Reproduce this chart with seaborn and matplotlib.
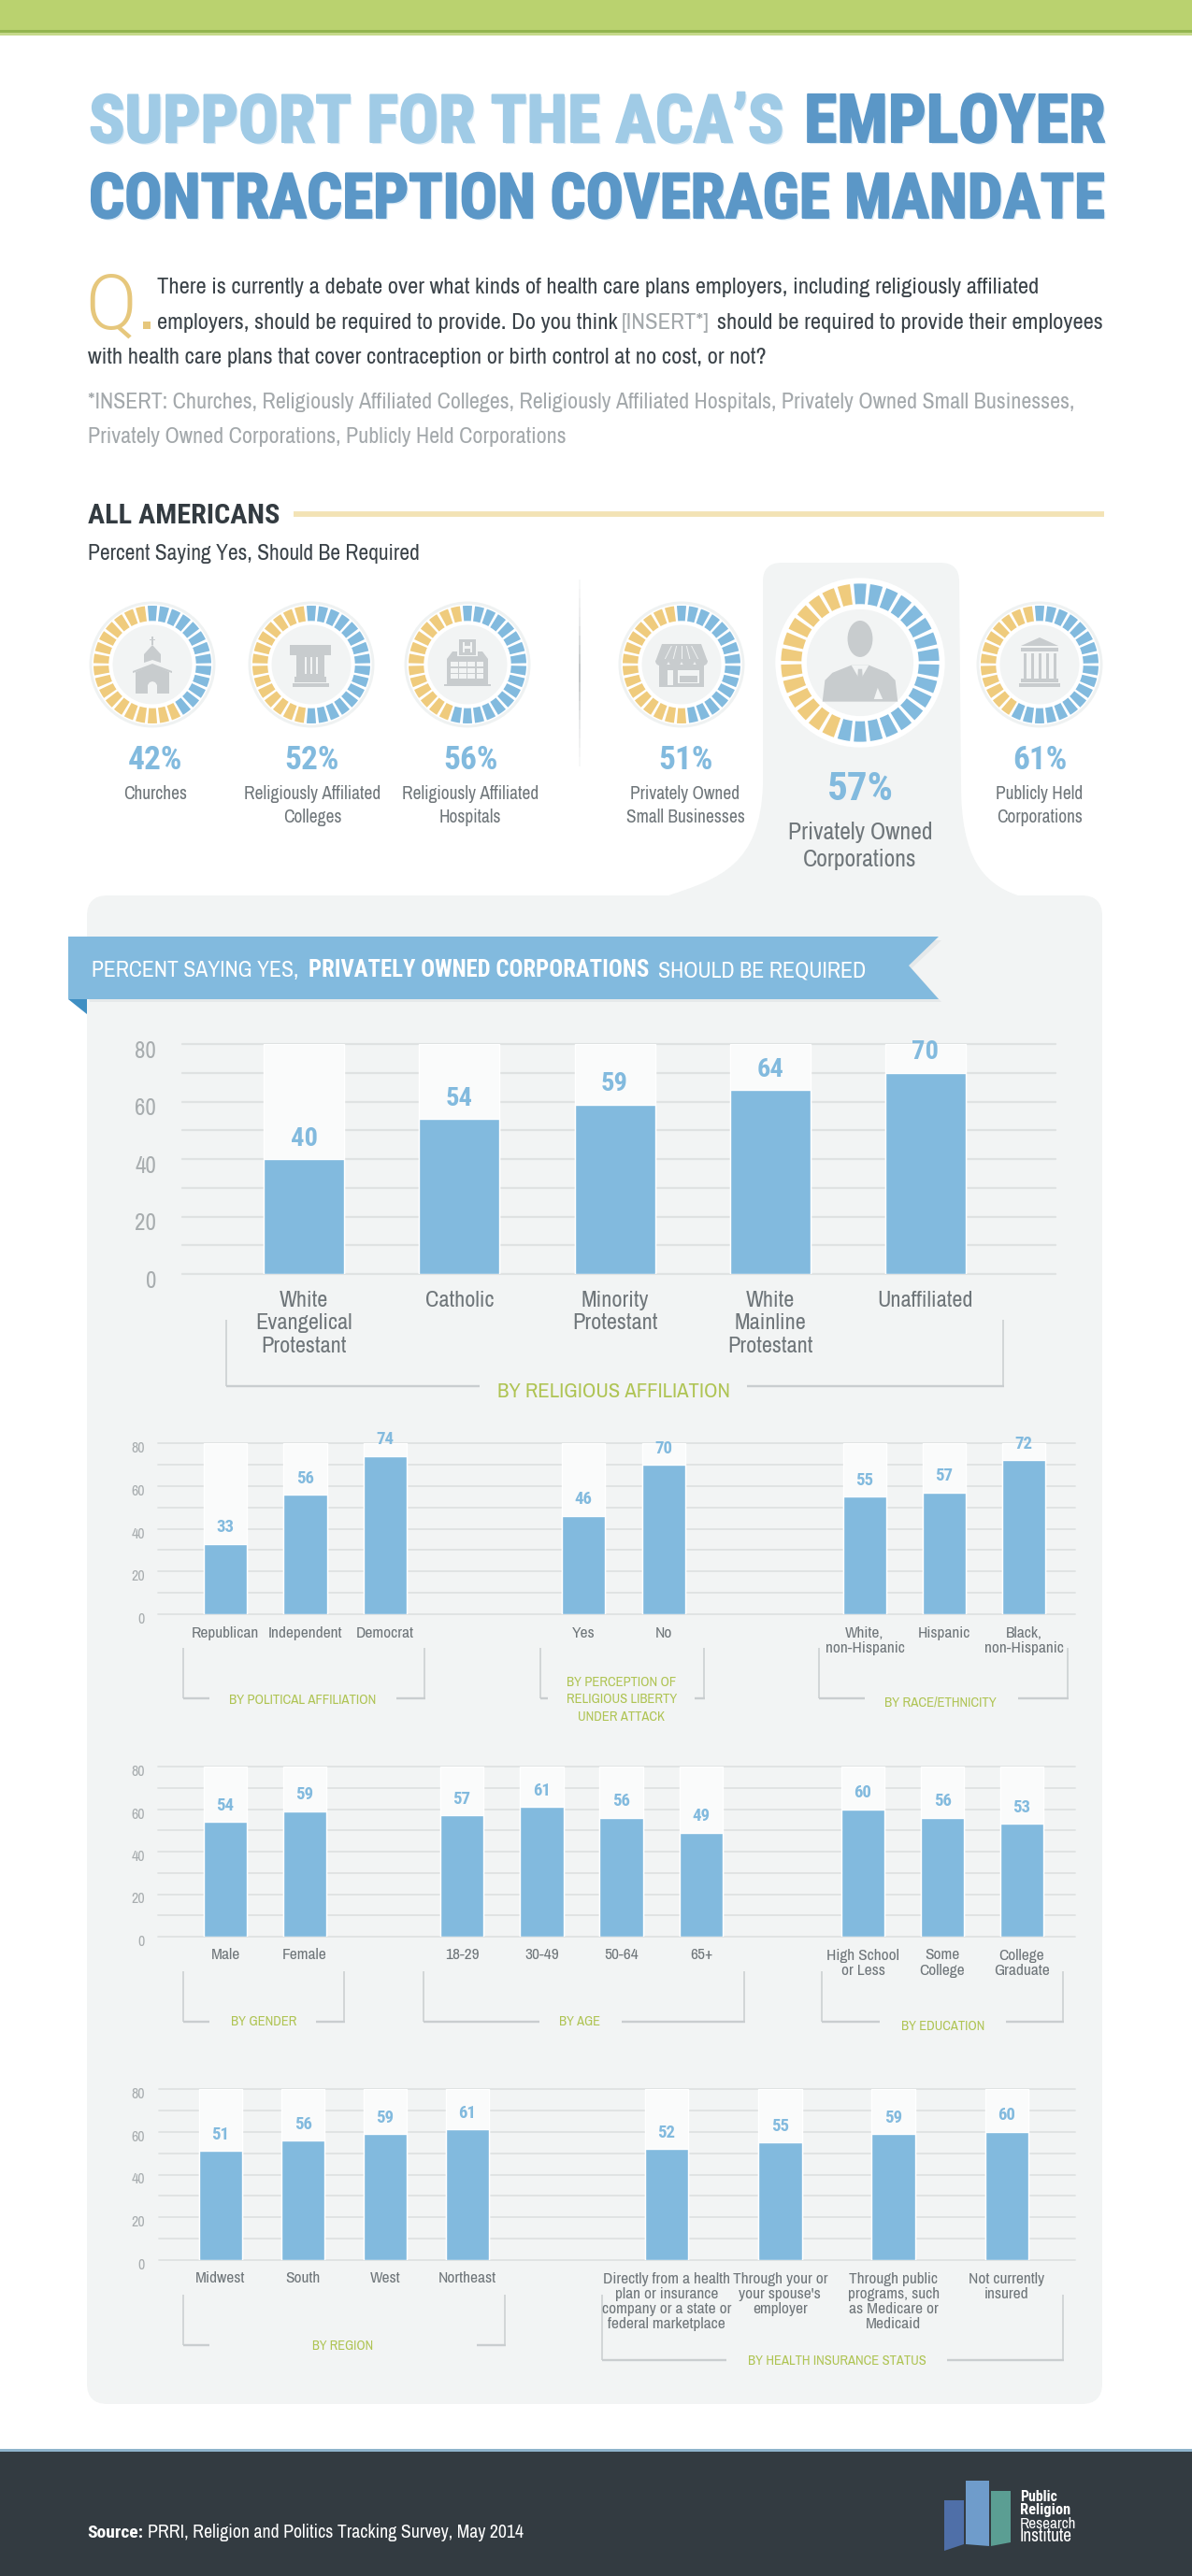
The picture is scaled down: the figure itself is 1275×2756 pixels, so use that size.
import matplotlib
matplotlib.use("Agg")
import matplotlib.pyplot as plt
import matplotlib.patheffects as pe
from matplotlib.patches import Rectangle, Polygon, Circle, Wedge, PathPatch, Ellipse
from matplotlib.path import Path
from matplotlib.transforms import ScaledTranslation
import seaborn as sns

# ---------- DATA ----------
overall_labels = ["Churches", "Religiously Affiliated\nColleges", "Religiously Affiliated\nHospitals",
                  "Privately Owned\nSmall Businesses", "Privately Owned\nCorporations", "Publicly Held\nCorporations"]
overall_values = [42, 52, 56, 51, 57, 61]

religion_cats = ["White\nEvangelical\nProtestant", "Catholic", "Minority\nProtestant", "White\nMainline\nProtestant", "Unaffiliated"]
religion_vals = [40, 54, 59, 64, 70]
politics_cats = ["Republican", "Independent", "Democrat"]
politics_vals = [33, 56, 74]
liberty_cats = ["Yes", "No"]
liberty_vals = [46, 70]
race_cats = ["White,\nnon-Hispanic", "Hispanic", "Black,\nnon-Hispanic"]
race_vals = [55, 57, 72]
gender_cats = ["Male", "Female"]
gender_vals = [54, 59]
age_cats = ["18-29", "30-49", "50-64", "65+"]
age_vals = [57, 61, 56, 49]
edu_cats = ["High School\nor Less", "Some\nCollege", "College\nGraduate"]
edu_vals = [60, 56, 53]
region_cats = ["Midwest", "South", "West", "Northeast"]
region_vals = [51, 56, 59, 61]
insurance_cats = ["Directly from a health\nplan or insurance\ncompany or a state or\nfederal marketplace",
                  "Through your or\nyour spouse's\nemployer",
                  "Through public\nprograms, such\nas Medicare or\nMedicaid",
                  "Not currently\ninsured"]
insurance_vals = [52, 55, 59, 60]
y_ticks = [0, 20, 40, 60, 80]
y_grid = [0, 10, 20, 30, 40, 50, 60, 70, 80]

# ---------- STYLE ----------
sns.set_theme(style="white")
BODY = ["Archivo Narrow", "Roboto Condensed", "Liberation Sans", "DejaVu Sans"]
BOLD = ["Roboto Condensed", "Liberation Sans", "DejaVu Sans"]
plt.rcParams["font.family"] = BODY
W, H = 1275, 2756
BLUE = "#82BADE"
LBLUE = "#A0CBE6"
DBLUE = "#5B97C7"
YEL = "#EFCB7D"
PANEL = "#F2F4F4"
GRID = "#DFE2E2"
BACKBAR = "#FAFBFB"
TXT = "#3A4248"
MID = "#6F767A"
PALE = "#A3A8AB"
GREEN = "#AFC454"
BRK = "#C9CDCF"
ICON = "#C8CCCE"

fig = plt.figure(figsize=(W / 100, H / 100), dpi=100, facecolor="white")
bg = fig.add_axes([0, 0, 1, 1], zorder=0)
bg.set_xlim(0, W)
bg.set_ylim(H, 0)
bg.axis("off")
renderer = fig.canvas.get_renderer()


def T(x, y, s, size=15, color=TXT, weight="normal", ha="left", width=None, family=None, **kw):
    fam = family or (BOLD if weight == "bold" else BODY)
    t = bg.text(x, y, s, fontsize=size, color=color, fontweight=weight, ha=ha, va="baseline", family=fam, **kw)
    if width is not None:
        w = t.get_window_extent(renderer).width
        t.set_fontsize(size * width / w)
    return t


def R(x0, y0, x1, y1, c, z=1):
    bg.add_patch(Rectangle((x0, y0), x1 - x0, y1 - y0, fc=c, ec="none", zorder=z))


def P(pts, c, z=1):
    bg.add_patch(Polygon(pts, closed=True, fc=c, ec="none", zorder=z))


# ---------- HEADER ----------
R(0, 0, W, 32, "#BAD26F")
R(0, 32, W, 35, "#93B54F")
R(0, 35, W, 38, "#C5D98A")


def heavy(c):
    return [pe.SimplePatchShadow(offset=(1.5, -1.5), shadow_rgbFace="#DCEBF5", alpha=1),
            pe.Stroke(linewidth=1.4, foreground=c), pe.Normal()]


T(95, 152, "SUPPORT FOR THE ACA\u2019S", size=50, color=LBLUE, weight="bold", width=744, path_effects=heavy(LBLUE))
T(860, 152, "EMPLOYER", size=50, color=DBLUE, weight="bold", width=323, path_effects=heavy(DBLUE))
T(95, 233, "CONTRACEPTION COVERAGE MANDATE", size=50, color=DBLUE, weight="bold", width=1088, path_effects=heavy(DBLUE))

T(91, 352, "Q", size=58, color="#E6C77C", family=["Roboto", "Liberation Sans"], weight=300)
R(153, 344, 161, 352, "#E6C77C")
T(168, 314, "There is currently a debate over what kinds of health care plans employers, including religiously affiliated",
  size=18, width=943)
T(168, 352, "employers, should be required to provide. Do you think", size=18, width=490)
T(665, 352, "[INSERT*]", size=18, color=PALE, width=94)
T(767, 352, "should be required to provide their employees", size=18, width=412)
T(94, 389, "with health care plans that cover contraception or birth control at no cost, or not?", size=18, width=727)
T(94, 437, "*INSERT: Churches, Religiously Affiliated Colleges, Religiously Affiliated Hospitals, Privately Owned Small Businesses,",
  size=18, color=PALE, width=1052)
T(94, 474, "Privately Owned Corporations, Publicly Held Corporations", size=18, color=PALE, width=510)

T(94, 560, "ALL AMERICANS", size=22, weight="bold", color="#333B41", width=205)
bg.plot([314, 1181], [550, 550], color="#F3E3B5", lw=4.2, solid_capstyle="butt")
T(94, 599, "Percent Saying Yes, Should Be Required", size=18, width=356)

# ---------- GREY PANEL + TAB ----------
verts = [(93, 980), (93, 958 + 0), (115, 958), (715, 958),
         (770, 940), (813, 925), (816, 840), (816, 622), (816, 602), (836, 602),
         (1006, 602), (1026, 602), (1026, 622), (1028, 840), (1028, 915), (1050, 945), (1089, 958),
         (1157, 958), (1179, 958), (1179, 980),
         (1179, 2550), (1179, 2572), (1157, 2572), (115, 2572), (93, 2572), (93, 2550), (93, 980)]
codes = [Path.MOVETO, Path.CURVE3, Path.CURVE3, Path.LINETO,
         Path.CURVE4, Path.CURVE4, Path.CURVE4, Path.LINETO, Path.CURVE3, Path.CURVE3,
         Path.LINETO, Path.CURVE3, Path.CURVE3, Path.LINETO, Path.CURVE4, Path.CURVE4, Path.CURVE4,
         Path.LINETO, Path.CURVE3, Path.CURVE3,
         Path.LINETO, Path.CURVE3, Path.CURVE3, Path.LINETO, Path.CURVE3, Path.CURVE3, Path.LINETO]
bg.add_patch(PathPatch(Path(verts, codes), fc=PANEL, ec="none", zorder=0.5))

# separator between the two groups of rings
for k, a in zip(range(20), [0.1, 0.15, 0.2, 0.25, 0.3, 0.4, 0.5, 0.6, 0.7, 0.8, 0.8, 0.7, 0.6, 0.5, 0.4, 0.3, 0.25, 0.2, 0.15, 0.1]):
    bg.plot([620, 620], [620 + k * 10, 630 + k * 10], color="#B5B9BB", alpha=a, lw=1.4, solid_capstyle="butt")


# ---------- ICONS ----------
def church(cx, cy, s):
    q = lambda pts: [(cx + a * s, cy + b * s) for a, b in pts]
    P(q([(-18, 8), (0, 1), (18, 8), (18, 31), (-18, 31)]), ICON, 3)
    P(q([(-21, 7), (0, -1), (21, 7), (21, 9), (0, 2), (-21, 9)]), ICON, 3)
    P(q([(-9, -2), (-9, -11), (0, -21), (9, -11), (9, -2), (0, -5)]), ICON, 3)
    P(q([(-0.6, -30), (0.6, -30), (0.6, -21), (-0.6, -21)]), ICON, 3)
    P(q([(-3, -27), (3, -27), (3, -26), (-3, -26)]), ICON, 3)
    P(q([(-5, 31), (-5, 22), (-3, 19), (0, 18), (3, 19), (5, 22), (5, 31)]), "#F2F4F4", 4)


def column(cx, cy, s):
    q = lambda pts: [(cx + a * s, cy + b * s) for a, b in pts]
    P(q([(-23, -21), (21, -21), (21, -10), (-23, -10)]), ICON, 3)
    P(q([(-16, -10), (14, -10), (14, 14), (-16, 14)]), ICON, 3)
    P(q([(-18, 13), (16, 13), (16, 19), (-18, 19)]), ICON, 3)
    P(q([(-20, 20), (19, 20), (19, 24), (-20, 24)]), ICON, 3)
    for a in (-6, 0, 6):
        P(q([(a - 0.8, -8), (a + 0.8, -8), (a + 0.8, 10), (a - 0.8, 10)]), "#F2F4F4", 4)


def hospital(cx, cy, s):
    q = lambda pts: [(cx + a * s, cy + b * s) for a, b in pts]
    P(q([(-22, -6), (-16, -14), (16, -14), (22, -6), (22, 21), (-22, 21)]), ICON, 3)
    P(q([(-25, 21), (25, 21), (25, 23), (-25, 23)]), ICON, 3)
    P(q([(-11, -28), (11, -28), (11, -9), (-11, -9)]), "#F2F4F4", 4)
    P(q([(-9, -27), (9, -27), (9, -10), (-9, -10)]), ICON, 4)
    P(q([(-5, -24), (-3, -24), (-3, -20), (3, -20), (3, -24), (5, -24), (5, -13), (3, -13), (3, -17), (-3, -17), (-3, -13), (-5, -13)]), "#F2F4F4", 5)
    for i in range(4):
        for j in range(3):
            x0, y0 = -18 + i * 9.2, -3 + j * 6.6
            P(q([(x0, y0), (x0 + 7.6, y0), (x0 + 7.6, y0 + 5), (x0, y0 + 5)]), "#F2F4F4", 4)


def store(cx, cy, s):
    q = lambda pts: [(cx + a * s, cy + b * s) for a, b in pts]
    P(q([(-21, -22), (21, -22), (28, -3), (-28, -3)]), ICON, 3)
    for a in (-14, -7, 0, 7, 14):
        P(q([(a * 0.76 - 0.5, -20), (a * 0.76 + 0.5, -20), (a * 1.26 + 0.5, -6), (a * 1.26 - 0.5, -6)]), "#F2F4F4", 4)
    for a in (-21, -7, 7, 21):
        bg.add_patch(Ellipse((cx + a * s, cy - 3 * s), 13.5 * s, 9 * s, fc=ICON, ec="none", zorder=3))
    P(q([(-24, 0), (24, 0), (24, 24), (-24, 24)]), ICON, 2.9)
    P(q([(-15, 6), (-9, 6), (-9, 22), (-15, 22)]), "#F2F4F4", 4)
    P(q([(-4, 6), (19, 6), (19, 20), (-4, 20)]), "#F2F4F4", 4)
    P(q([(-2, 12), (17, 12), (17, 19), (-2, 19)]), ICON, 5)


def person(cx, cy, s):
    q = lambda pts: [(cx + a * s, cy + b * s) for a, b in pts]
    bg.add_patch(Ellipse((cx, cy - 19 * s), 20 * s, 29 * s, fc=ICON, ec="none", zorder=3))
    P(q([(-30, 31), (-28, 14), (-22, 8), (-7, 2), (7, 2), (22, 8), (28, 14), (30, 31)]), ICON, 3)
    P(q([(-7, 2), (0, 14), (7, 2)]), "#F2F4F4", 4)
    P(q([(-1.6, 5), (1.6, 5), (2.6, 20), (0, 26), (-2.6, 20)]), ICON, 5)
    P(q([(11, 29), (14, 20), (18, 29)]), "#F2F4F4", 4)


def temple(cx, cy, s):
    q = lambda pts: [(cx + a * s, cy + b * s) for a, b in pts]
    P(q([(0, -29), (20, -20), (-20, -20)]), ICON, 3)
    P(q([(-20, -18), (20, -18), (20, -14), (-20, -14)]), ICON, 3)
    for a in (-17, -9, -1, 7, 15):
        P(q([(a, -12), (a + 3, -12), (a + 3, 15), (a, 15)]), ICON, 3)
    P(q([(-20, 15), (20, 15), (20, 19), (-20, 19)]), ICON, 3)
    P(q([(-22, 20), (22, 20), (22, 24), (-22, 24)]), ICON, 3)


SEGMENTS = 30


def ring(cx, cy, pct, icon, big=False):
    s = 90 / 67 if big else 1.0
    bg.add_patch(Circle((cx, cy), 67.5 * s, fc="white" if big else "#EFF2F2", ec="none", zorder=1))
    bg.add_patch(Circle((cx, cy), 64.5 * s, fc="white", ec="none", zorder=1.1))
    blue_n = round(pct * SEGMENTS / 100)
    for i in range(SEGMENTS):
        a = -90 + i * 360 / SEGMENTS
        bg.add_patch(Wedge((cx, cy), 63 * s, a - 4.6, a + 4.6, width=16.3 * s,
                           fc=BLUE if i < blue_n else YEL, ec="none", zorder=2))
    bg.add_patch(Circle((cx, cy), 42.5 * s, fc=PANEL, ec="none", zorder=2))
    icon(cx, cy, s)


ring_x = [163, 333, 500, 729, 920, 1112]
icons = [church, column, hospital, store, person, temple]
label_x = [166, 334, 503, 733, 920, 1112]
for i, (cx, lx, v, lab, ic) in enumerate(zip(ring_x, label_x, overall_values, overall_labels, icons)):
    big = i == 4
    ring(cx, 709 if big else 711, v, ic, big)
    T(lx, 856 if big else 823, f"{v}%", size=31 if big else 25.5, color=BLUE, weight="bold", ha="center")
    for j, ln in enumerate(lab.split("\n")):
        if big:
            T(lx, 898 + j * 29, ln, size=18.5, color=MID, ha="center")
        else:
            T(lx, 855 + j * 25, ln, size=14, color=MID, ha="center")

# ---------- BANNER ----------
P([(76, 1006), (1007, 1006), (975, 1036), (1007, 1072), (96, 1072)], "#E6E9EA", 0.9)
P([(73, 1002), (1004, 1002), (972, 1033), (1004, 1069), (73, 1069)], BLUE, 2)
P([(73, 1069), (93, 1069), (93, 1085)], "#3F8FC3", 2)
T(98, 1045, "PERCENT SAYING YES,", size=19, color="white", width=222, zorder=3)
T(330, 1045, "PRIVATELY OWNED CORPORATIONS", size=18, color="white", weight="bold", width=366, zorder=3)
T(704, 1045, "SHOULD BE REQUIRED", size=19, color="white", width=223, zorder=3)


# ---------- CHARTS ----------
def px_axes(left, top, right, bottom, z):
    ax = fig.add_axes([left / W, 1 - bottom / H, (right - left) / W, (bottom - top) / H], zorder=z)
    ax.patch.set_alpha(0)
    return ax


def row_axes(left, right, top, bottom, tick_right, size):
    """Row-wide axes holding the grid and the y scale."""
    ax = px_axes(left, top, right, bottom, 1)
    ax.set_xlim(0, 1)
    ax.set_ylim(0, 80)
    ax.set_yticks(y_grid)
    ax.set_yticklabels([str(v) if v in y_ticks else "" for v in y_grid])
    ax.set_xticks([])
    ax.grid(True, axis="y", color=GRID, lw=1.6 if size > 14 else 1.3, clip_on=False, zorder=0)
    ax.tick_params(axis="y", length=0, labelsize=size, labelcolor="#A8ADAF", pad=(left - tick_right) * 0.72)
    for lab in ax.get_yticklabels():
        lab.set_transform(lab.get_transform() + ScaledTranslation(0, -(5 if size > 14 else 4) / 100, fig.dpi_scale_trans))
    sns.despine(ax=ax, left=True, bottom=True, top=True, right=True)
    return ax


def group(cats, vals, first, last, top, bottom, barw, lab_size, val_size, pad_tick, line=1.1):
    n = len(cats)
    sp = (last - first) / (n - 1)
    ax = px_axes(first - sp / 2, top, last + sp / 2, bottom, 2)
    w = barw / sp
    sns.barplot(x=cats, y=[80] * n, order=cats, color=BACKBAR, saturation=1, width=w, ax=ax, zorder=1)
    sns.barplot(x=cats, y=vals, order=cats, color=BLUE, saturation=1, width=w, ax=ax, zorder=2)
    ax.set_xlim(-0.5, n - 0.5)
    ax.set_ylim(0, 80)
    ax.set_xlabel("")
    ax.set_ylabel("")
    ax.yaxis.set_visible(False)
    ax.tick_params(axis="x", length=0, labelsize=lab_size, labelcolor=MID, pad=pad_tick)
    for lab in ax.get_xticklabels():
        lab.set_linespacing(line)
    ax.bar_label(ax.containers[1], labels=[str(v) for v in vals], padding=6, color=BLUE,
                 fontsize=val_size, fontweight="bold", family=BOLD, zorder=3)
    sns.despine(ax=ax, left=True, bottom=True, top=True, right=True)
    return ax


def bracket(left, right, top, bottom, gap0, gap1, lines, cx, base, width, size=13, step=18.5):
    bg.plot([left, left], [top, bottom], color=BRK, lw=1.1, solid_capstyle="butt", zorder=2)
    bg.plot([right, right], [top, bottom], color=BRK, lw=1.1, solid_capstyle="butt", zorder=2)
    bg.plot([left - 0.5, gap0], [bottom, bottom], color=BRK, lw=1.7, solid_capstyle="butt", zorder=2)
    bg.plot([gap1, right + 0.5], [bottom, bottom], color=BRK, lw=1.7, solid_capstyle="butt", zorder=2)
    fs = size
    for j, ln in enumerate(lines):
        t = T(cx, base + j * step, ln, size=fs, color=GREEN, ha="center", width=width if j == 0 else None, zorder=3)
        fs = t.get_fontsize()


# main chart
row_axes(194.5, 1129, 1117, 1363, 167, 18)
group(religion_cats, religion_vals, 325, 990, 1117, 1363, 86, 17.5, 20.5, 13, line=1.2)
bracket(242, 1073, 1412, 1483, 513, 799, ["BY RELIGIOUS AFFILIATION"], 657, 1495, 249, size=18)

# row 1
row_axes(169, 1150, 1544, 1727, 155, 11.5)
group(politics_cats, politics_vals, 241, 412, 1544, 1727, 46.5, 12.5, 13.5, 9)
group(liberty_cats, liberty_vals, 624, 710, 1544, 1727, 46.5, 12.5, 13.5, 9)
group(race_cats, race_vals, 925, 1095, 1544, 1727, 46.5, 12.5, 13.5, 9)
bracket(196, 454, 1763, 1817, 224, 424, ["BY POLITICAL AFFILIATION"], 324, 1823, 158)
bracket(578, 753, 1763, 1817, 586, 743, ["BY PERCEPTION OF", "RELIGIOUS LIBERTY", "UNDER ATTACK"], 665, 1804, 117)
bracket(876, 1142, 1763, 1817, 925, 1089, ["BY RACE/ETHNICITY"], 1006, 1826, 120)

# row 2
row_axes(169, 1150, 1890, 2072, 155, 11.5)
group(gender_cats, gender_vals, 241, 326, 1890, 2072, 46.5, 12.5, 13.5, 9)
group(age_cats, age_vals, 494, 750, 1890, 2072, 46.5, 12.5, 13.5, 9)
group(edu_cats, edu_vals, 923, 1093, 1890, 2072, 46.5, 12.5, 13.5, 9)
bracket(196, 368, 2109, 2163, 224, 338, ["BY GENDER"], 282, 2167, 70)
bracket(453, 796, 2109, 2163, 577, 665, ["BY AGE"], 620.5, 2167, 44)
bracket(879, 1137, 2109, 2163, 941, 1076, ["BY EDUCATION"], 1009, 2172, 89)

# row 3
row_axes(170, 1150, 2235, 2418, 155, 11.5)
group(region_cats, region_vals, 236, 500, 2235, 2418, 46.5, 12.5, 13.5, 9)
group(insurance_cats, insurance_vals, 713, 1077, 2235, 2418, 46.5, 12.5, 13.5, 9)
bracket(196, 540, 2455, 2509, 224, 509.5, ["BY REGION"], 367, 2513.5, 65)
bracket(644, 1137, 2455, 2524.6, 777, 1013, ["BY HEALTH INSURANCE STATUS"], 895, 2529.5, 191)

# ---------- FOOTER ----------
R(0, 2620, W, 2756, "#333B41", 1)
R(0, 2620, W, 2623, "#8FB4CC", 2)
T(93, 2715, "Source:", size=17, color="white", weight="bold", width=60, zorder=3)
T(158, 2715, "PRRI, Religion and Politics Tracking Survey, May 2014", size=17, color="white", width=401, zorder=3)
P([(1010, 2675), (1031, 2675), (1031, 2722), (1010, 2729)], "#4F6FA8", 2)
P([(1033, 2654), (1058, 2654), (1058, 2724), (1033, 2722)], "#6F9CCB", 2)
P([(1060, 2665), (1081, 2665), (1081, 2720), (1060, 2724)], "#5B9E93", 2)
for j, (ln, wt, wd) in enumerate([("Public", "bold", 40), ("Religion", "bold", 54), ("Research", "normal", 60), ("Institute", "normal", 56)]):
    T(1091, 2676 + j * 14.4, ln, size=12, color="white", weight=wt, width=wd, zorder=3)

fig.savefig("out.png", dpi=100, facecolor="white")
